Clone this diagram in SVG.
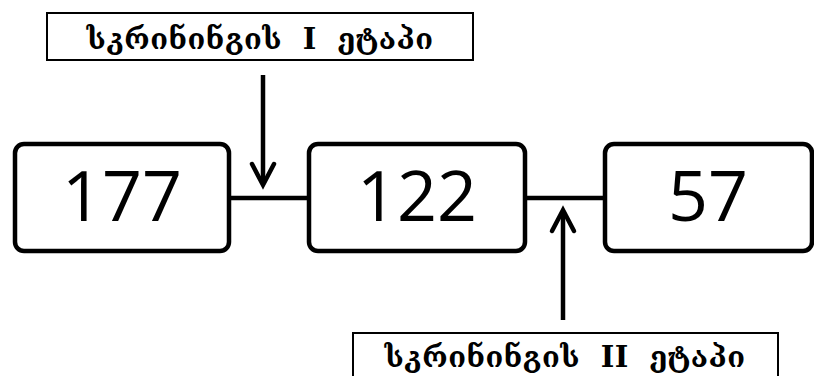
<svg xmlns="http://www.w3.org/2000/svg" width="814" height="376" viewBox="0 0 814 376">
<style>
.box{fill:#fff;stroke:#000;stroke-width:4.5}
.lbl{fill:#fff;stroke:#000;stroke-width:2}
.num{font-family:"Open Sans","Liberation Sans",sans-serif;font-size:70px;text-anchor:middle;fill:#000}
.geo{font-family:"DejaVu Serif","DejaVu Sans",serif;font-weight:bold;font-size:29px;text-anchor:middle;fill:#000;word-spacing:10px;letter-spacing:0.5px}
.ln{stroke:#000;stroke-width:4.5;fill:none}
.ah{stroke:#000;stroke-width:4.5;fill:none;stroke-linecap:round;stroke-linejoin:miter}
</style>
<rect width="814" height="376" fill="#fff"/>
<g id="connectors">
<line class="ln" x1="229" y1="198" x2="308" y2="198"/>
<line class="ln" x1="525" y1="198" x2="605" y2="198"/>
<line class="ln" x1="263" y1="75" x2="263" y2="184"/>
<polyline class="ah" points="252,164 263,185 274,164"/>
<line class="ln" x1="563" y1="212" x2="563" y2="320"/>
<polyline class="ah" points="552,231 563,210 574,231"/>
</g>
<g id="label1">
<rect class="lbl" x="47" y="13" width="426" height="47"/>
<text class="geo" x="260" y="49">სკრინინგის I ეტაპი</text>
</g>
<g id="label2">
<rect class="lbl" x="353" y="333" width="425" height="50"/>
<text class="geo" x="565" y="367">სკრინინგის II ეტაპი</text>
</g>
<g id="n177">
<rect class="box" x="15" y="144" width="214" height="107" rx="9"/>
<text class="num" x="122" y="221">177</text>
</g>
<g id="n122">
<rect class="box" x="309" y="144" width="216" height="107" rx="9"/>
<text class="num" x="417" y="221">122</text>
</g>
<g id="n57">
<rect class="box" x="605" y="144" width="207" height="107" rx="9"/>
<text class="num" x="708" y="221">57</text>
</g>
</svg>
